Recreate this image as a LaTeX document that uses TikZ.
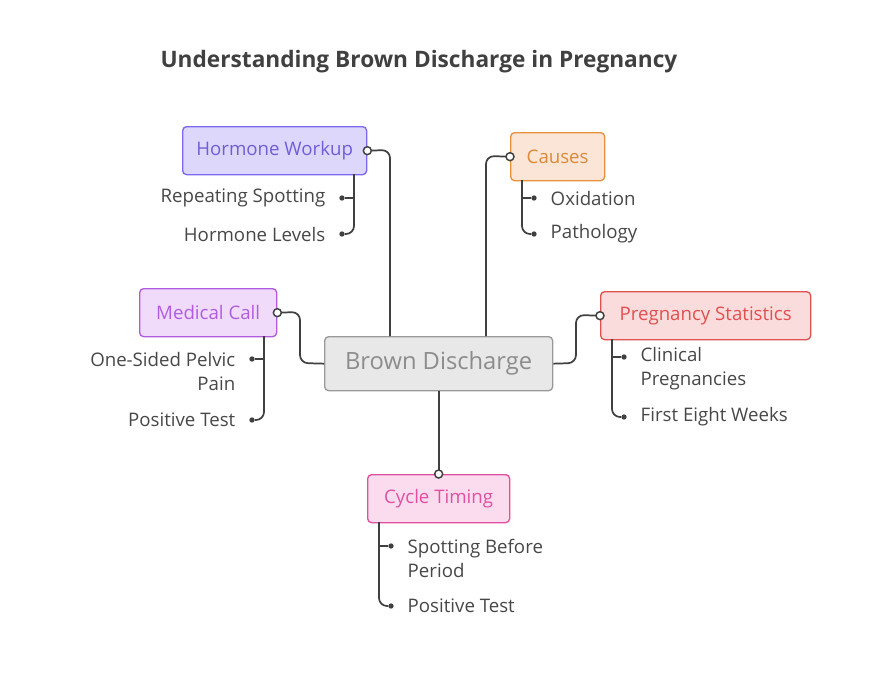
\documentclass[tikz,border=0pt]{standalone}
\usepackage{fontspec}
\setmainfont{Open Sans}
\begin{document}
\begin{tikzpicture}[x=0.75pt,y=-0.75pt,
 box/.style={draw,rounded corners=3pt,line width=1pt,inner sep=0pt,anchor=north west},
 lbl/.style={font=\fontsize{14pt}{18pt}\selectfont,text=black!72},
 ln/.style={draw=black!75,line width=1.3pt,rounded corners=6pt},
 dot/.style={circle,fill=black!75,inner sep=0pt,minimum size=4pt},
 port/.style={circle,draw=black!75,fill=white,line width=1.1pt,inner sep=0pt,minimum size=6pt}]
\useasboundingbox (0,0) rectangle (876,696);
\definecolor{hwF}{HTML}{DDD8FB}\definecolor{hwD}{HTML}{7B68EE}
\definecolor{caF}{HTML}{FBE5D6}\definecolor{caD}{HTML}{E8913A}
\definecolor{mcF}{HTML}{F0DCFA}\definecolor{mcD}{HTML}{B05CE0}
\definecolor{psF}{HTML}{FBDCDC}\definecolor{psD}{HTML}{E05050}
\definecolor{ctF}{HTML}{FADCEE}\definecolor{ctD}{HTML}{E050A0}
\node[font=\fontsize{17pt}{20pt}\selectfont\bfseries,text=black!75] (title) at (419,62) {Understanding Brown Discharge in Pregnancy};
% central
\node[box,draw=black!40,fill=black!9,minimum width=228*0.75pt,minimum height=54*0.75pt] (c) at (324,336) {};
\node[font=\fontsize{17.8pt}{20pt}\selectfont,text=black!45] at (c.center) {Brown Discharge};
% boxes
\node[box,draw=hwD,fill=hwF,minimum width=184*0.75pt,minimum height=48*0.75pt] (hw) at (182,126) {};
\node[lbl,text=hwD!90!black] at (hw.center) {Hormone Workup};
\node[box,draw=caD,fill=caF,minimum width=94*0.75pt,minimum height=48*0.75pt] (ca) at (510,132) {};
\node[lbl,text=caD!95!black] at (ca.center) {Causes};
\node[box,draw=mcD,fill=mcF,minimum width=137*0.75pt,minimum height=48*0.75pt] (mc) at (139,288) {};
\node[lbl,text=mcD] at (mc.center) {Medical Call};
\node[box,draw=psD,fill=psF,minimum width=210*0.75pt,minimum height=48*0.75pt] (ps) at (600,291) {};
\node[lbl,text=psD] at (ps.center) {Pregnancy Statistics};
\node[box,draw=ctD,fill=ctF,minimum width=142*0.75pt,minimum height=48*0.75pt] (ct) at (367,474) {};
\node[lbl,text=ctD] at (ct.center) {Cycle Timing};
% main connectors
\draw[ln] (hw.east) -- (390,150) -- (390,336);
\draw[ln] (ca.west) -- (486,156) -- (486,336);
\draw[ln] (mc.east) -- (300,312) -- (300,363) -- (c.west);
\draw[ln] (ps.west) -- (576,315) -- (576,363) -- (c.east);
\draw[ln] (c.south) -- (ct.north);
\node[port] (p1) at (hw.east) {};
\node[port] (p2) at (ca.west) {};
\node[port] (p3) at (mc.east) {};
\node[port] (p4) at (ps.west) {};
\node[port] (p5) at (ct.north) {};
% Hormone workup children
\node[dot] (h1) at (342,198) {}; \node[dot] (h2) at (342,234) {};
\node[lbl,anchor=east] at (330,198) {Repeating Spotting};
\node[lbl,anchor=east] at (330,234) {Hormone Levels};
\draw[ln] (354,174) -- (354,234) -- (h2); \draw[ln] (354,198) -- (h1);
% Causes children
\node[dot] (c1) at (534,198) {}; \node[dot] (c2) at (534,234) {};
\node[lbl,anchor=west] at (546,198) {Oxidation};
\node[lbl,anchor=west] at (546,234) {Pathology};
\draw[ln] (522,180) -- (522,234) -- (c2); \draw[ln] (522,198) -- (c1);
% Medical call children
\node[dot] (m1) at (252,359) {}; \node[dot] (m2) at (252,420) {};
\node[lbl,anchor=east,align=right] at (240,371) {One-Sided Pelvic\\Pain};
\node[lbl,anchor=east] at (240,420) {Positive Test};
\draw[ln] (264,336) -- (264,420) -- (m2); \draw[ln] (264,359) -- (m1);
% Pregnancy statistics children
\node[dot] (s1) at (624,357) {}; \node[dot] (s2) at (624,417) {};
\node[lbl,anchor=west,align=left] at (636,369) {Clinical\\Pregnancies};
\node[lbl,anchor=west] at (636,417) {First Eight Weeks};
\draw[ln] (612,339) -- (612,417) -- (s2); \draw[ln] (612,357) -- (s1);
% Cycle timing children
\node[dot] (t1) at (391,546) {}; \node[dot] (t2) at (391,606) {};
\node[lbl,anchor=west,align=left] at (403,558) {Spotting Before\\Period};
\node[lbl,anchor=west] at (403,606) {Positive Test};
\draw[ln] (379,522) -- (379,606) -- (t2); \draw[ln] (379,546) -- (t1);
\end{tikzpicture}
\end{document}
